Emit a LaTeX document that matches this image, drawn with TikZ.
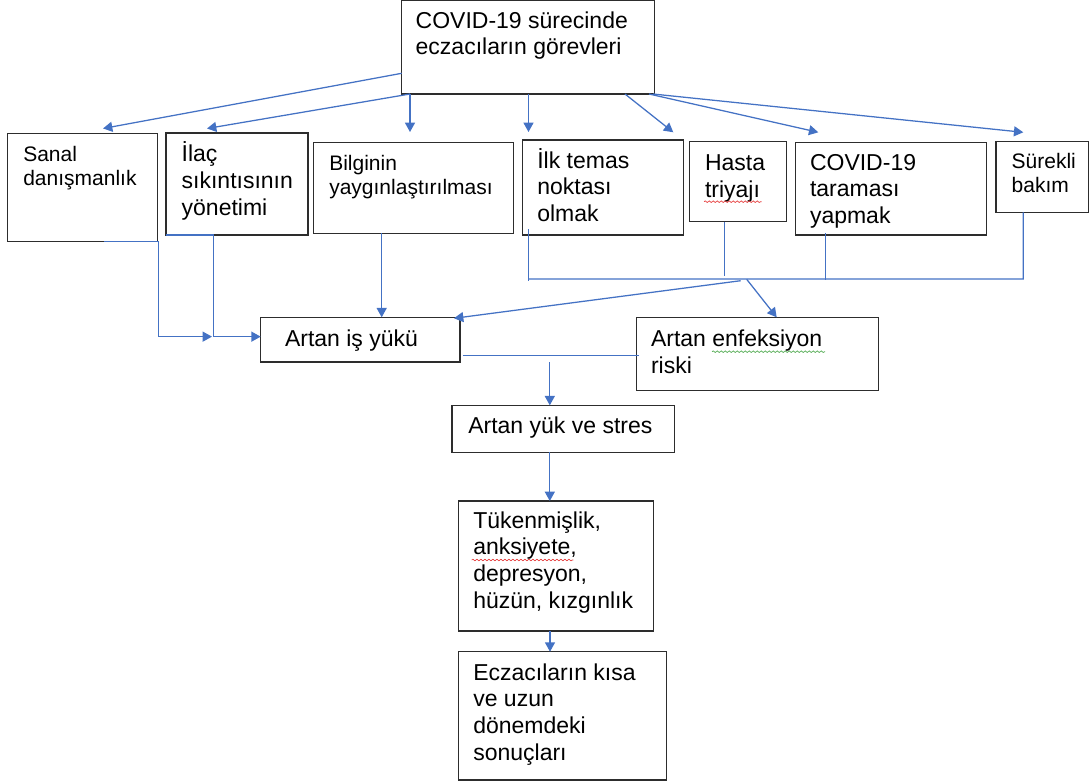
\documentclass[tikz,border=0pt]{standalone}
\usepackage{fontspec}
\setmainfont{Liberation Sans}
\usetikzlibrary{arrows.meta,fit,decorations.pathmorphing}
\definecolor{lineblue}{RGB}{68,114,196}
\definecolor{boxline}{RGB}{45,45,45}
\definecolor{spellred}{RGB}{230,60,60}
\definecolor{spellgreen}{RGB}{80,170,80}
\newcommand\fbig{\fontsize{17.25pt}{20pt}\selectfont}
\newcommand\fsmall{\fontsize{15.75pt}{18pt}\selectfont}
\newcommand\ml[1]{\begin{tabular}[t]{@{}l@{}}#1\end{tabular}}
\begin{document}
\begin{tikzpicture}[x=0.75pt,y=-0.75pt,
  box/.style={draw=boxline,line width=0.9pt,inner sep=0pt,outer sep=0pt},
  txt/.style={anchor=base west,inner sep=0pt,outer sep=0pt,font=\fbig},
  stxt/.style={txt,font=\fsmall},
  conn/.style={draw=lineblue,line width=0.95pt},
  arr/.style={conn,-{Triangle[length=7pt,width=7.5pt]}},
  wavy/.style={decorate,decoration={snake,amplitude=0.6pt,segment length=3pt},line width=0.5pt}]
\useasboundingbox (0,0) rectangle (1090,782);

% boxes
\node[box,fit={(401.7,0.8) (654.5,94)}] (top) {};
\node[box,fit={(7.5,133.3) (157.3,241.7)}] (sanal) {};
\node[box,fit={(166,133) (308,235)}] (ilac) {};
\node[box,fit={(313.3,142.3) (513.3,233.3)}] (bilgi) {};
\node[box,fit={(522.7,140) (683.3,235)}] (ilk) {};
\node[box,fit={(689.3,141.7) (786.7,221.7)}] (hasta) {};
\node[box,fit={(795.3,142.3) (986.7,235)}] (tarama) {};
\node[box,fit={(996,141.7) (1088.5,212.3)}] (surekli) {};
\node[box,fit={(260.7,317.3) (460,362)}] (is) {};
\node[box,fit={(636.7,317.3) (878.7,390.7)}] (enf) {};
\node[box,fit={(452,405.3) (674.3,452.3)}] (stres) {};
\node[box,fit={(458.7,501) (653.3,631)}] (tuken) {};
\node[box,fit={(458.7,651.7) (666.7,780)}] (sonuc) {};

% texts
\node[txt] (top-t) at (415.7,28) {\ml{COVID-19 sürecinde\\eczacıların görevleri}};
\node[stxt] (sanal-t) at (23.3,161) {\ml{Sanal\\danışmanlık}};
\node[txt] (ilac-t) at (181.7,161.7) {\ml{İlaç\\sıkıntısının\\yönetimi}};
\node[stxt] (bilgi-t) at (329.3,170.7) {\ml{Bilginin\\yaygınlaştırılması}};
\node[txt] (ilk-t) at (537.3,168.3) {\ml{İlk temas\\noktası\\olmak}};
\node[txt] (hasta-t) at (705,170.7) {\ml{Hasta\\triyajı}};
\node[txt] (tarama-t) at (810,170) {\ml{COVID-19\\taraması\\yapmak}};
\node[stxt] (surekli-t) at (1011.7,168.3) {\ml{Sürekli\\bakım}};
\node[txt] (is-t) at (285,346.7) {Artan iş yükü};
\node[txt] (enf-t) at (651,346.7) {\ml{Artan enfeksiyon\\riski}};
\node[txt] (stres-t) at (468.3,433.3) {Artan yük ve stres};
\node[txt] (tuken-t) at (473.3,528.3) {\ml{Tükenmişlik,\\anksiyete,\\depresyon,\\hüzün, kızgınlık}};
\node[txt] (sonuc-t) at (473.3,680) {\ml{Eczacıların kısa\\ve uzun\\dönemdeki\\sonuçları}};

% spell-check underlines
\draw[wavy,spellred] ([shift={(-1,31)}]hasta-t.base west) -- ([shift={(56.7,31)}]hasta-t.base west);
\draw[wavy,spellgreen] ([shift={(61,5)}]enf-t.base west) -- ([shift={(174,5)}]enf-t.base west);
\draw[wavy,spellred] ([shift={(-1.6,31.7)}]tuken-t.base west) -- ([shift={(100,31.7)}]tuken-t.base west);

% arrows from the top box
\draw[arr] ([shift={(0,72.5)}]top.north west) -- ([shift={(95.5,-4.8)}]sanal.north west);
\draw[arr] ([shift={(8.3,0)}]top.south west) -- ([shift={(41,-4.5)}]ilac.north west);
\draw[arr] ([shift={(8.3,0)}]top.south west) -- ([shift={(96.7,-10.3)}]bilgi.north west);
\draw[arr] ([shift={(126.8,0)}]top.south west) -- ([shift={(5.8,-8)}]ilk.north west);
\draw[arr] ([shift={(223.3,0)}]top.south west) -- ([shift={(-10,-7.7)}]ilk.north east);
\draw[arr] ([shift={(-5.5,0)}]top.south east) -- ([shift={(23,-10)}]tarama.north west);
\draw[arr] ([shift={(-1.5,0)}]top.south east) -- ([shift={(27.3,-9.4)}]surekli.north west);

% into "Artan is yuku"
\coordinate (isL) at ([shift={(0,-3)}]is.west);
\draw[arr] ([shift={(96.5,0)}]sanal.south west) -- ([shift={(1,0)}]sanal.south east) -- ([shift={(1,0)}]sanal.south east |- isL) -- ([shift={(-48.7,0)}]isL);
\draw[arr] (ilac.south west) -- ([shift={(47.3,0)}]ilac.south west) |- (isL);
\draw[arr] ([shift={(68.4,0)}]bilgi.south west) -- ([shift={(68.4,0)}]bilgi.south west |- is.north);

% collecting bus
\coordinate (busL) at ([shift={(6,44)}]ilk.south west);
\coordinate (busR) at ([shift={(27.3,66.7)}]surekli.south west);
\draw[conn] ([shift={(6,-6)}]ilk.south west) -- ([shift={(6,46)}]ilk.south west);
\draw[conn] (busL) -- (busR) -- ([shift={(27.3,0)}]surekli.south west);
\draw[conn] ([shift={(35,0)}]hasta.south west) -- ([shift={(35,54)}]hasta.south west);
\draw[conn] ([shift={(30.4,-2)}]tarama.south west) -- ([shift={(30.4,45)}]tarama.south west);
\coordinate (j1) at ([shift={(212,1.7)}]busL);
\coordinate (j2) at ([shift={(218,0.3)}]busL);
\draw[arr] (j1) -- ([shift={(-6,1)}]is.north east);
\draw[arr] (j2) -- ([shift={(140,0)}]enf.north west);

% lower part
\draw[conn] ([shift={(2.7,-6.7)}]is.south east) -- ([shift={(2.7,-6.7)}]is.south east -| enf.west);
\draw[arr] ([shift={(97.8,0)}]stres.north west |- is.south) -- ([shift={(97.8,0)}]stres.north west);
\draw[arr] ([shift={(97.8,0)}]stres.south west) -- ([shift={(97.8,0)}]stres.south west |- tuken.north);
\draw[arr] ([shift={(91.3,0)}]tuken.south west) -- ([shift={(91.3,0)}]tuken.south west |- sonuc.north);
\end{tikzpicture}
\end{document}
